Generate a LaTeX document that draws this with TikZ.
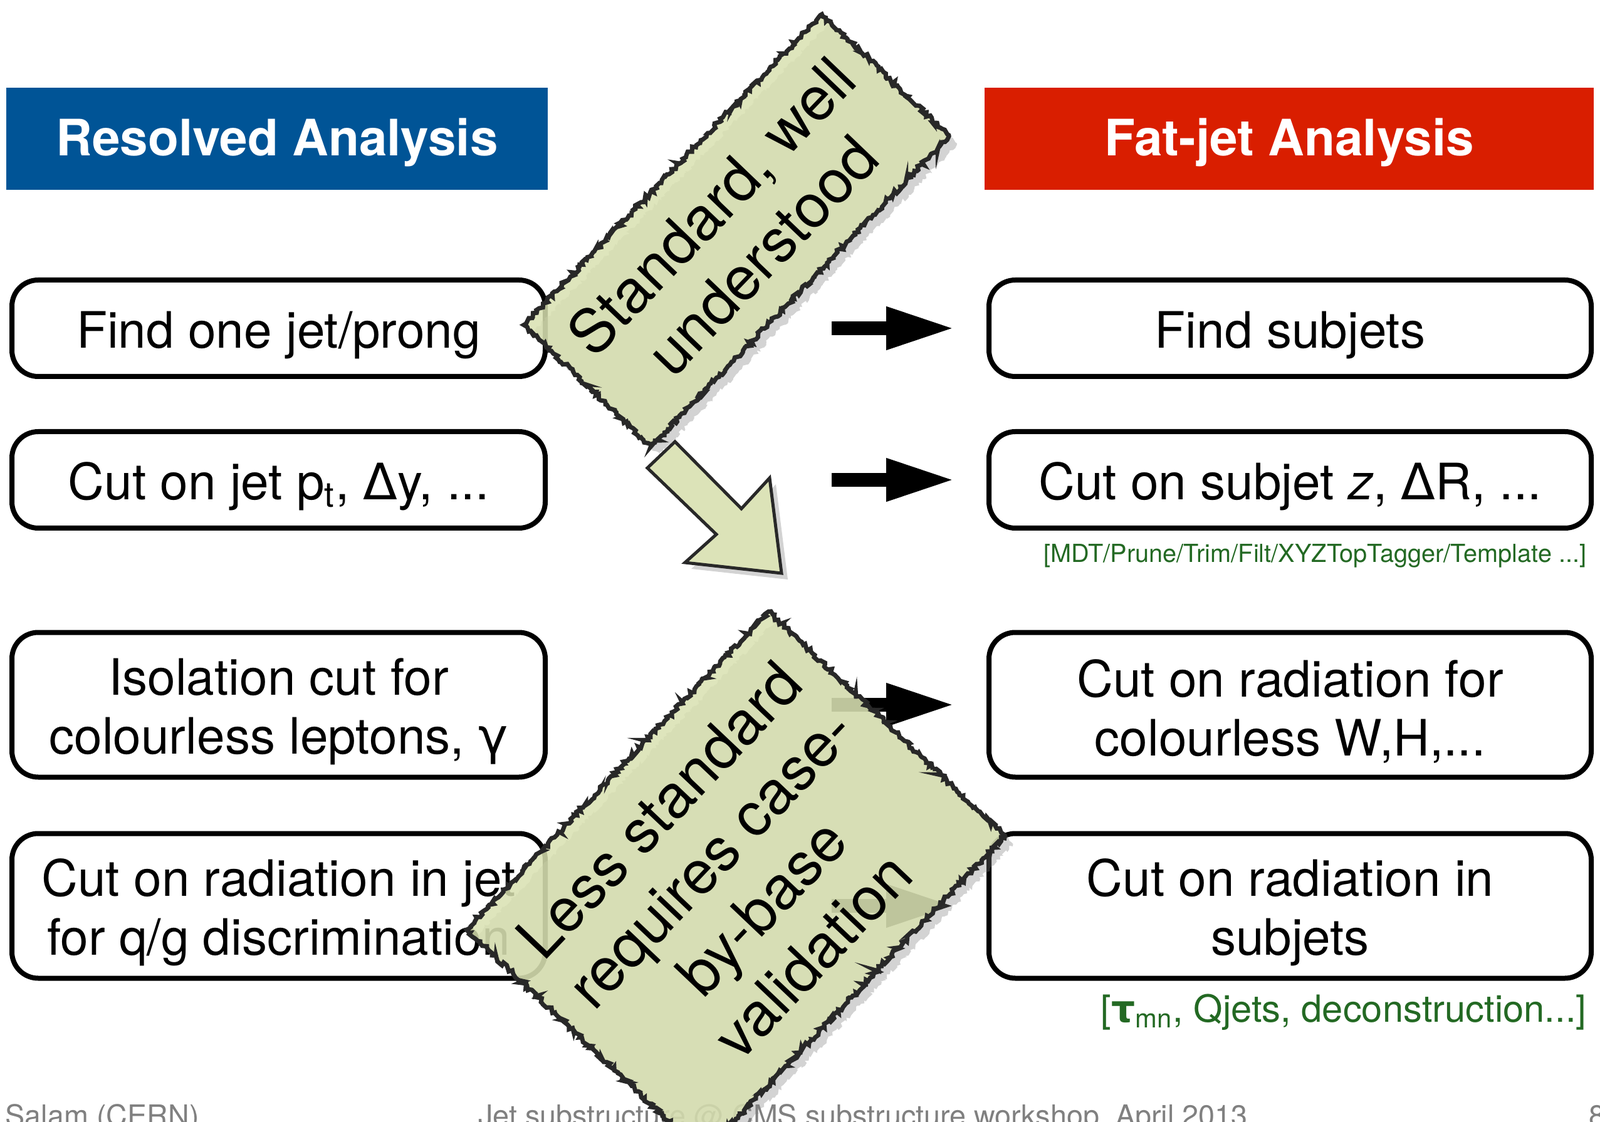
\documentclass[tikz,border=0pt]{standalone}
\usepackage{fontspec}
\setmainfont{TeX Gyre Heros}
\newfontfamily\grk{DejaVu Sans}
\usetikzlibrary{arrows.meta,shadows,decorations.pathmorphing}

\definecolor{resblue}{RGB}{0,84,150}
\definecolor{fatred}{RGB}{217,30,0}
\definecolor{notegreen}{RGB}{216,224,176}
\definecolor{refgreen}{RGB}{35,105,35}
\definecolor{notegray}{RGB}{40,40,40}

\tikzset{
	header/.style={minimum height=1.63cm, inner sep=0pt, text=white, font=\fontsize{22.8}{27}\selectfont\bfseries,
		execute at begin node=\rule{0pt}{0.71cm}},
	stepbox/.style={draw, line width=0.08cm, rounded corners=0.42cm, inner sep=0pt, align=center, font=\fontsize{22.8}{26.8}\selectfont,
		execute at begin node=\rule{0pt}{#1}},
	stepbox/.default=0.8cm,
	note/.style={draw=notegray, fill=notegreen, fill opacity=0.85, text opacity=1, line width=0.07cm, align=center, inner sep=0pt,
		decorate, decoration={random steps, segment length=1pt, amplitude=0.9pt},
		drop shadow={shadow xshift=0.13cm, shadow yshift=-0.13cm, opacity=0.35}, font=\fontsize{27.5}{32}\selectfont},
	fatarrow/.style={line width=0.22cm, -{Triangle[length=1.1cm, width=0.63cm]}, shorten <=4.53cm, shorten >=0.5cm},
	reflabel/.style={text=refgreen, inner sep=0pt, anchor=base east},
	footer/.style={text=black!50, inner sep=0pt, anchor=base, font=\fontsize{13.3}{15}\selectfont},
}

\begin{document}
\begin{tikzpicture}
		%%%%% START %%%%%
		\useasboundingbox (0, 0) rectangle (25.53, -17.91);
		
		% headers
		\node[header, fill=resblue, minimum width=8.64cm] (res) at (4.42, -2.215) {Resolved Analysis};
		\node[header, fill=fatred, minimum width=9.72cm] (fat) at (20.57, -2.215) {Fat-jet Analysis};
		
		% left column
		\node[stepbox, minimum width=8.51cm, minimum height=1.54cm] (l1) at (4.445, -5.24) {Find one jet/prong};
		\node[stepbox, minimum width=8.51cm, minimum height=1.54cm] (l2) at (4.445, -7.66) {Cut on jet p\textsubscript{t}, {\grk Δ}y, ...};
		\node[stepbox=1.75cm, minimum width=8.51cm, minimum height=2.31cm] (l3) at (4.445, -11.25) {Isolation cut for\\colourless leptons, {\grk γ}};
		\node[stepbox=1.75cm, minimum width=8.51cm, minimum height=2.31cm] (l4) at (4.445, -14.46) {Cut on radiation in jet\\for q/g discrimination};
		
		% right column
		\node[stepbox, minimum width=9.61cm, minimum height=1.54cm] (r1) at (20.585, -5.24) {Find subjets};
		\node[stepbox, minimum width=9.61cm, minimum height=1.54cm] (r2) at (20.585, -7.66) {Cut on subjet \textit{z}, {\grk Δ}R, ...};
		\node[stepbox=1.75cm, minimum width=9.61cm, minimum height=2.31cm] (r3) at (20.585, -11.25) {Cut on radiation for\\colourless W,H,...};
		\node[stepbox=1.75cm, minimum width=9.61cm, minimum height=2.31cm] (r4) at (20.585, -14.46) {Cut on radiation in\\subjets};
		
		\draw[fatarrow] (l1) -- (r1);
		\draw[fatarrow] (l2) -- (r2);
		\draw[fatarrow] (l3) -- (r3);
		\draw[fatarrow] (l4) -- (r4);
		
		\node[reflabel, font=\fontsize{11.3}{13}\selectfont] (tag) at (25.32, -8.98) {[MDT/Prune/Trim/Filt/XYZTopTagger/Template ...]};
		\node[reflabel, font=\fontsize{17}{20}\selectfont] (shape) at (25.32, -16.31) {[{\grk\bfseries τ}\textsubscript{mn}, Qjets, deconstruction...]};
		
		% footer
		\node[footer, anchor=base west] (auth) at (0.08, -17.97) {Salam (CERN)};
		\node[footer] (talk) at (13.77, -17.97) {Jet substructure @ CMS substructure workshop, April 2013};
		\node[footer, anchor=base west] (page) at (25.35, -17.97) {8};
		
		% big arrow
		\draw[draw=notegray, line width=0.05cm, fill=notegreen!90!white, line join=miter,
			drop shadow={shadow xshift=0.1cm, shadow yshift=-0.1cm, opacity=0.35}]
			(10.77, -7.05) -- (10.33, -7.47) -- (11.43, -8.53) -- (10.93, -8.98)
			-- (12.47, -9.15) -- (12.28, -7.63) -- (11.83, -8.12) -- cycle;
		
		% notes
		\node[note, rotate=46.2, minimum width=6.87cm, minimum height=2.81cm] (easy) at (11.75, -3.68) {Standard, well\\understood};
		\node[note, rotate=46.5, minimum width=7.0cm, minimum height=5.2cm] (hard) at (11.74, -14.09) {Less standard\\requires case-\\by-base\\validation};
		
		%%%%% END %%%%%
\end{tikzpicture}
\end{document}
